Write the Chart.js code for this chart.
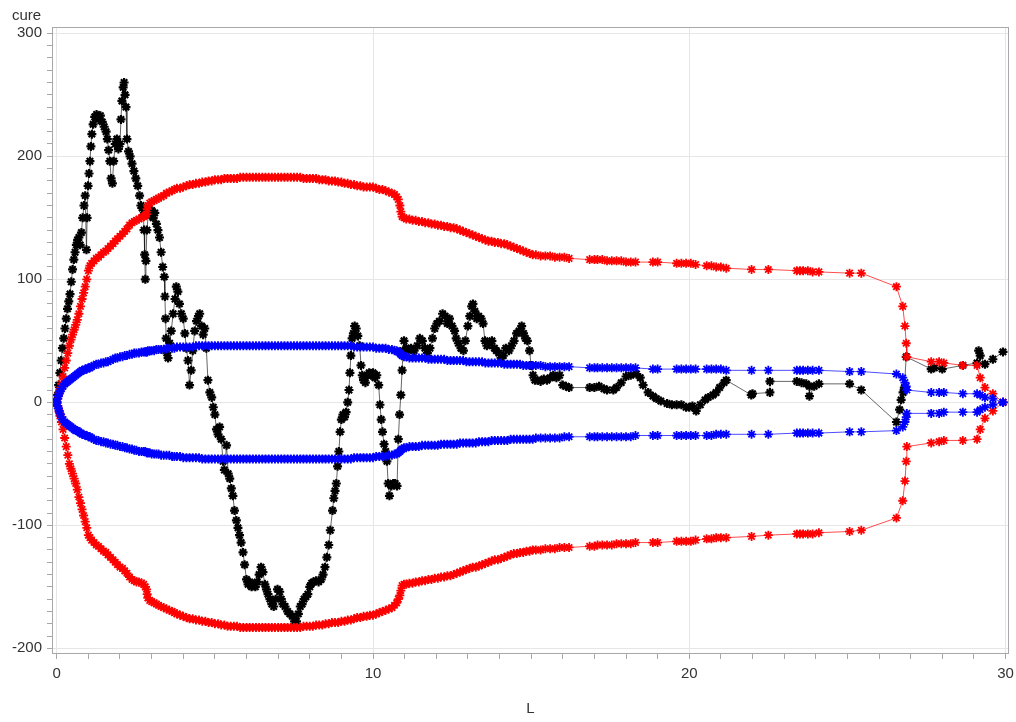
<!DOCTYPE html>
<html>
<head>
<meta charset="utf-8">
<script src="https://cdn.jsdelivr.net/npm/chart.js@4/dist/chart.umd.min.js"></script>
<style>
  body { margin: 0; background: #fff; }
  #wrap { width: 1016px; height: 722px; }
  canvas { display: block; }
</style>
</head>
<body>
<div id="wrap"><canvas id="cureChart" width="1016" height="722"></canvas></div>
<script>
// tick labels
const xMajor = [0, 10, 20, 30];
const yMajor = [-200, -100, 0, 100, 200, 300];

// observed cure path
const blackL = [
  0, 0.03, 0.06, 0.1, 0.14, 0.18, 0.22, 0.26, 0.3, 0.34, 0.38, 0.42, 0.46, 0.5, 0.54, 0.58, 0.62, 0.66, 0.7, 0.74,
  0.78, 0.82, 0.86, 0.9, 0.94, 0.96, 0.99, 1.02, 1.05, 1.08, 1.11, 1.15, 1.2, 1.26, 1.32, 1.38, 1.44, 1.5, 1.56, 1.6,
  1.64, 1.68, 1.72, 1.76, 1.8, 1.85, 1.9, 1.95, 2.0, 2.03, 2.06, 2.1, 2.13, 2.16, 2.19, 2.22, 2.27, 2.32, 2.38, 2.44,
  2.5, 2.56, 2.62, 2.66, 2.7, 2.74, 2.76, 2.78, 2.8, 2.82, 2.85, 2.9, 2.95, 3.0, 3.05, 3.1, 3.15, 3.2, 3.25, 3.3,
  3.35, 3.4, 3.42, 3.44, 3.46, 3.48, 3.52, 3.57, 3.62, 3.68, 3.74, 3.78, 3.83, 3.88, 3.94, 4.0, 4.05, 4.1, 4.15, 4.2,
  4.25, 4.3, 4.36, 4.42, 4.48, 4.52, 4.58, 4.63, 4.68, 4.73, 4.78, 4.84, 4.9, 4.95, 5.0, 5.05, 5.1, 5.15, 5.2, 5.26,
  5.3, 5.37, 5.42, 5.47, 5.52, 5.57, 5.62, 5.68, 5.73, 5.78, 5.83, 5.89, 5.94, 6.0, 6.05, 6.1, 6.16, 6.22, 6.28, 6.34,
  6.4, 6.46, 6.52, 6.58, 6.63, 6.68, 6.74, 6.8, 6.86, 6.92, 6.98, 7.05, 7.1, 7.15, 7.22, 7.3, 7.37, 7.45, 7.52, 7.58,
  7.64, 7.7, 7.76, 7.82, 7.88, 7.94, 8.0, 8.06, 8.12, 8.2, 8.28, 8.36, 8.42, 8.48, 8.54, 8.6, 8.65, 8.72, 8.76, 8.8,
  8.84, 8.88, 8.92, 8.96, 9.0, 9.05, 9.1, 9.15, 9.2, 9.24, 9.27, 9.3, 9.34, 9.38, 9.42, 9.47, 9.52, 9.58, 9.62, 9.66,
  9.7, 9.76, 9.82, 9.88, 9.94, 10.0, 10.06, 10.12, 10.18, 10.22, 10.26, 10.3, 10.35, 10.4, 10.44, 10.48, 10.52, 10.58, 10.64, 10.7,
  10.76, 10.8, 10.84, 10.88, 10.92, 10.95, 10.98, 11.05, 11.12, 11.2, 11.3, 11.4, 11.48, 11.56, 11.64, 11.72, 11.8, 11.88, 11.95, 12.02,
  12.1, 12.2, 12.28, 12.35, 12.42, 12.5, 12.58, 12.63, 12.7, 12.78, 12.86, 12.92, 13.0, 13.06, 13.12, 13.16, 13.22, 13.28, 13.34, 13.42,
  13.48, 13.54, 13.6, 13.68, 13.76, 13.84, 13.9, 13.98, 14.05, 14.12, 14.2, 14.3, 14.38, 14.46, 14.54, 14.62, 14.7, 14.76, 14.82, 14.88,
  14.95, 15.0, 15.06, 15.12, 15.2, 15.3, 15.4, 15.5, 15.6, 15.7, 15.8, 15.9, 16.0, 16.1, 16.2, 16.85, 17.0, 17.15, 17.3, 17.4,
  17.6, 17.7, 17.85, 18.0, 18.15, 18.33, 18.45, 18.54, 18.7, 18.85, 18.96, 19.1, 19.3, 19.45, 19.6, 19.75, 19.9, 20.0, 20.1, 20.22,
  20.35, 20.5, 20.6, 20.75, 20.85, 20.96, 21.1, 21.17, 21.96, 22.0, 22.55, 22.55, 23.4, 23.55, 23.7, 23.8, 23.8, 23.95, 24.1, 25.07,
  25.44, 26.55, 26.65, 26.7, 26.76, 26.8, 26.86, 27.65, 27.75, 28.0, 28.65, 29.1, 29.15, 29.2, 29.35, 29.6, 29.92
];
const blackCure = [
  0, 6, 14, 24, 34, 44, 52, 60, 68, 76, 82, 88, 98, 108, 116, 122, 128, 132, 134, 128,
  138, 150, 160, 168, 124, 150, 176, 186, 196, 208, 218, 226, 232, 234, 230, 233, 228, 224, 220, 214,
  205, 196, 182, 178, 196, 210, 214, 206, 210, 230, 245, 256, 260, 250, 240, 214, 204, 200, 194, 188,
  182, 176, 168, 160, 158, 152, 140, 120, 100, 115, 140, 154, 152, 156, 150, 154, 145, 140, 134, 122,
  110, 102, 86, 68, 52, 40, 36, 48, 58, 72, 84, 94, 90, 80, 72, 68, 56, 44, 34, 14,
  26, 42, 58, 66, 70, 72, 62, 55, 60, 44, 18, 8, 4, -4, -10, -22, -26, -20, -30, -48,
  -55, -35, -58, -62, -70, -76, -88, -96, -102, -108, -114, -122, -132, -144, -148, -146, -150, -148, -150, -146,
  -140, -134, -138, -148, -152, -156, -160, -164, -166, -160, -152, -154, -160, -164, -166, -170, -172, -174, -178, -178,
  -172, -166, -164, -160, -158, -156, -150, -147, -146, -145, -146, -144, -140, -134, -126, -116, -104, -88, -78, -72,
  -66, -52, -40, -24, -14, -10, -12, -8, 0, 10, 24, 38, 52, 56, 62, 60, 54, 46, 30, 22,
  18, 16, 22, 24, 22, 24, 20, 22, 14, -2, -14, -24, -34, -40, -48, -66, -76, -68, -66, -66,
  -68, -30, -10, 6, 26, 42, 50, 44, 42, 44, 42, 46, 52, 50, 44, 40, 44, 52, 60, 64,
  66, 72, 70, 64, 68, 62, 58, 52, 48, 44, 42, 50, 62, 70, 78, 80, 74, 68, 70, 68,
  64, 50, 46, 48, 50, 44, 42, 40, 36, 38, 44, 42, 46, 50, 56, 58, 62, 56, 52, 50,
  42, 30, 22, 18, 18, 17, 19, 18, 20, 22, 20, 22, 14, 13, 12, 12, 12, 13, 11, 10,
  10, 12, 16, 21, 22, 23, 20, 14, 8, 5, 3, 1, -1, -2, -2, -2, -4, -4, -3, -7,
  -2, 2, 4, 6, 8, 12, 16, 18, 6, 7, 8, 17, 17, 16, 15, 13, 5, 13, 15, 15,
  10, -16, -6, 2, 8, 12, 37, 27, 28, 27, 30, 32, 42, 38, 31, 35, 41
];

// band positions (shared by the red and blue bands)
const boundL = [
  0, 0.03, 0.05, 0.08, 0.1, 0.15, 0.2, 0.25, 0.3, 0.35, 0.4, 0.45, 0.5, 0.55, 0.6, 0.65, 0.7, 0.75, 0.8, 0.85,
  0.9, 0.95, 1.0, 1.05, 1.1, 1.18, 1.25, 1.32, 1.4, 1.48, 1.55, 1.62, 1.7, 1.78, 1.85, 1.92, 2.0, 2.08, 2.15, 2.22,
  2.3, 2.38, 2.45, 2.52, 2.6, 2.68, 2.75, 2.8, 2.84, 2.86, 2.88, 2.94, 3.0, 3.08, 3.15, 3.22, 3.3, 3.38, 3.47, 3.56,
  3.65, 3.72, 3.8, 3.9, 4.0, 4.1, 4.2, 4.3, 4.4, 4.5, 4.6, 4.7, 4.8, 4.9, 5.0, 5.1, 5.2, 5.3, 5.4, 5.5,
  5.6, 5.7, 5.8, 5.9, 6.0, 6.1, 6.2, 6.3, 6.4, 6.5, 6.6, 6.7, 6.8, 6.9, 7.0, 7.1, 7.2, 7.3, 7.4, 7.5,
  7.6, 7.7, 7.8, 7.9, 8.0, 8.1, 8.2, 8.3, 8.4, 8.5, 8.6, 8.7, 8.8, 8.9, 9.0, 9.1, 9.2, 9.3, 9.4, 9.5,
  9.6, 9.7, 9.8, 9.9, 10.0, 10.1, 10.2, 10.3, 10.4, 10.5, 10.6, 10.68, 10.75, 10.8, 10.85, 10.88, 10.92, 10.98, 11.05, 11.15,
  11.25, 11.35, 11.45, 11.55, 11.65, 11.75, 11.85, 11.95, 12.05, 12.15, 12.25, 12.35, 12.45, 12.55, 12.65, 12.75, 12.85, 12.95, 13.05, 13.15,
  13.25, 13.35, 13.45, 13.55, 13.65, 13.75, 13.85, 13.95, 14.05, 14.15, 14.25, 14.35, 14.45, 14.55, 14.65, 14.75, 14.85, 14.95, 15.05, 15.15,
  15.3, 15.45, 15.6, 15.75, 15.9, 16.05, 16.2, 16.85, 17.0, 17.1, 17.25, 17.4, 17.55, 17.7, 17.85, 18.0, 18.15, 18.3, 18.85, 19.0,
  19.6, 19.75, 19.9, 20.05, 20.2, 20.55, 20.7, 20.85, 21.0, 21.17, 21.97, 22.5, 23.4, 23.5, 23.6, 23.75, 23.9, 24.1, 25.07, 25.44,
  26.55, 26.75, 26.82, 26.86, 26.88, 27.65, 27.9, 28.05, 28.65, 29.1, 29.2, 29.35, 29.6, 29.92
];
const redUpper = [
  0, 3, 5, 8, 10, 15, 21, 28, 34, 40, 46, 51, 55, 59, 63, 67, 72, 78, 84, 89,
  94, 100, 107, 111, 113, 115, 117, 118, 120, 122, 123, 125, 127, 129, 131, 133, 135, 137, 139, 141,
  144, 146, 147, 148, 149, 150, 151, 152, 153, 157, 160, 162, 163, 164, 165, 166, 167, 168, 170, 171,
  172, 173, 174, 174, 175, 176, 177, 177, 178, 178, 179, 179, 180, 180, 181, 181, 181, 182, 182, 182,
  182, 182, 183, 183, 183, 183, 183, 183, 183, 183, 183, 183, 183, 183, 183, 183, 183, 183, 183, 183,
  183, 183, 182, 182, 182, 182, 182, 181, 181, 181, 180, 180, 180, 179, 179, 178, 178, 177, 177, 176,
  176, 175, 175, 175, 175, 174, 173, 173, 172, 171, 170, 169, 167, 165, 160, 155, 151, 150, 149, 149,
  148, 148, 147, 147, 146, 146, 145, 145, 144, 144, 143, 143, 142, 142, 141, 140, 139, 138, 137, 136,
  135, 134, 133, 132, 131, 131, 130, 130, 129, 129, 128, 127, 126, 125, 124, 123, 122, 121, 120, 120,
  119, 119, 119, 118, 118, 118, 117, 116, 116, 116, 116, 115, 115, 115, 115, 114, 114, 114, 114, 114,
  113, 113, 113, 113, 112, 111, 111, 110, 110, 109, 108, 108, 107, 107, 107, 107, 106, 106, 105, 105,
  94, 78, 62, 48, 37, 33, 33, 32, 30, 30, 20, 12, 7, 0
];
const redLower = [
  0, -3, -5, -8, -11, -16, -22, -29, -36, -43, -50, -54, -58, -62, -66, -71, -77, -82, -87, -92,
  -97, -102, -108, -110, -112, -114, -116, -117, -119, -121, -122, -124, -126, -128, -130, -132, -134, -135, -137, -139,
  -142, -144, -145, -146, -146, -147, -148, -150, -152, -156, -159, -161, -162, -163, -164, -165, -166, -167, -168, -169,
  -170, -171, -172, -173, -174, -175, -176, -176, -177, -177, -178, -178, -179, -179, -180, -180, -181, -181, -182, -182,
  -182, -182, -183, -183, -183, -183, -183, -183, -183, -183, -183, -183, -183, -183, -183, -183, -183, -183, -183, -183,
  -183, -183, -182, -182, -182, -182, -181, -181, -181, -180, -180, -179, -179, -179, -178, -178, -177, -177, -176, -175,
  -175, -174, -174, -173, -173, -172, -171, -170, -169, -168, -167, -165, -163, -160, -157, -153, -149, -148, -148, -147,
  -147, -146, -146, -145, -145, -144, -144, -143, -143, -142, -142, -141, -141, -140, -139, -138, -137, -136, -135, -134,
  -134, -133, -132, -131, -130, -129, -128, -128, -127, -126, -125, -124, -123, -123, -122, -122, -121, -121, -120, -120,
  -120, -119, -119, -119, -118, -118, -118, -117, -117, -116, -116, -116, -116, -115, -115, -115, -115, -114, -114, -114,
  -113, -113, -113, -113, -112, -111, -111, -110, -110, -110, -109, -108, -107, -107, -107, -107, -107, -106, -105, -104,
  -94, -80, -64, -48, -36, -33, -32, -31, -31, -30, -22, -13, -7, 0
];
const blueUpper = [
  0, 3, 5, 7, 9, 11, 13, 15, 16, 17, 18, 19, 20, 21, 22, 23, 24, 25, 26, 26,
  27, 27, 28, 28, 29, 30, 31, 31, 32, 32, 33, 33, 34, 35, 36, 36, 37, 37, 38, 38,
  39, 39, 40, 40, 40, 41, 41, 41, 41, 41, 42, 42, 42, 42, 43, 43, 43, 43, 44, 44,
  44, 44, 45, 45, 45, 45, 45, 45, 46, 46, 46, 46, 46, 46, 46, 46, 46, 46, 46, 46,
  46, 46, 46, 46, 46, 46, 46, 46, 46, 46, 46, 46, 46, 46, 46, 46, 46, 46, 46, 46,
  46, 46, 46, 46, 46, 46, 46, 46, 46, 46, 46, 46, 46, 46, 46, 46, 46, 46, 45, 45,
  45, 45, 45, 45, 45, 44, 44, 44, 44, 43, 43, 42, 42, 41, 40, 39, 38, 37, 37, 36,
  36, 36, 36, 36, 36, 35, 35, 35, 35, 35, 35, 34, 34, 34, 34, 34, 34, 33, 33, 33,
  33, 33, 33, 32, 32, 32, 32, 32, 32, 31, 31, 31, 31, 31, 31, 30, 30, 30, 30, 30,
  30, 29, 29, 29, 29, 29, 29, 28, 28, 28, 28, 28, 28, 28, 28, 28, 28, 28, 27, 27,
  27, 27, 27, 27, 27, 27, 27, 27, 27, 26, 26, 26, 26, 26, 26, 26, 26, 26, 25, 25,
  23, 20, 16, 13, 10, 8, 8, 8, 7, 7, 6, 4, 3, 0
];
const blueLower = [
  0, -3, -5, -7, -9, -12, -14, -16, -17, -18, -19, -20, -21, -22, -23, -23, -24, -25, -26, -26,
  -27, -27, -28, -28, -29, -30, -31, -31, -32, -32, -33, -33, -34, -34, -35, -35, -36, -36, -37, -37,
  -38, -38, -39, -39, -40, -40, -40, -40, -41, -41, -41, -41, -42, -42, -42, -42, -43, -43, -43, -43,
  -44, -44, -44, -44, -45, -45, -45, -45, -45, -45, -46, -46, -46, -46, -46, -46, -46, -46, -46, -46,
  -46, -46, -46, -46, -46, -46, -46, -46, -46, -46, -46, -46, -46, -46, -46, -46, -46, -46, -46, -46,
  -46, -46, -46, -46, -46, -46, -46, -46, -46, -46, -46, -46, -46, -46, -46, -46, -46, -46, -45, -45,
  -45, -45, -45, -45, -45, -44, -44, -44, -44, -43, -43, -42, -42, -41, -40, -39, -38, -37, -37, -36,
  -36, -36, -36, -35, -35, -35, -35, -35, -35, -34, -34, -34, -34, -34, -34, -33, -33, -33, -33, -33,
  -33, -32, -32, -32, -32, -31, -31, -31, -31, -31, -31, -30, -30, -30, -30, -30, -30, -30, -30, -29,
  -29, -29, -29, -29, -29, -28, -28, -28, -28, -28, -28, -28, -28, -28, -28, -28, -28, -27, -27, -27,
  -27, -27, -27, -27, -27, -27, -27, -26, -26, -26, -26, -26, -25, -25, -25, -25, -25, -25, -24, -24,
  -23, -20, -16, -12, -9, -9, -9, -8, -8, -8, -6, -4, -2, 0
];

function pairs(xs, ys) {
    return xs.map((x, i) => ({ x: x, y: ys[i] }));
}

function series(data, lineColor, markColor, weight) {
    return {
        data: data,
        showLine: true,
        borderColor: lineColor,
        borderWidth: 1,
        pointStyle: 'star',
        pointRadius: 4.5,
        pointBorderWidth: weight,
        pointBorderColor: markColor,
        pointBackgroundColor: markColor,
        pointHoverRadius: 4.5
    };
}

const FONT = '"Liberation Sans", Arial, sans-serif';

// frame around the plot area plus the two axis captions
const framePlugin = {
    id: 'frame',
    afterDraw(chart) {
        const c = chart.ctx;
        const a = chart.chartArea;
        c.save();
        c.strokeStyle = '#a8a8a8';
        c.lineWidth = 1;
        c.strokeRect(Math.round(a.left) + 0.5, Math.round(a.top) + 0.5,
                     Math.round(a.right - a.left) - 1, Math.round(a.bottom - a.top) - 1);
        c.fillStyle = '#333';
        c.font = '15px ' + FONT;
        c.textBaseline = 'middle';
        c.textAlign = 'left';
        c.fillText('cure', 12, 16);
        c.textAlign = 'center';
        c.fillText('L', (a.left + a.right) / 2, 709);
        c.restore();
    }
};

const ctx = document.getElementById('cureChart').getContext('2d');

new Chart(ctx, {
    type: 'scatter',
    data: {
        datasets: [
            series(pairs(boundL, blueUpper), 'rgba(0,0,255,0.7)', '#0000ff', 1.8),
            series(pairs(boundL, blueLower), 'rgba(0,0,255,0.7)', '#0000ff', 1.8),
            series(pairs(boundL, redUpper), 'rgba(255,0,0,0.7)', '#ff0000', 1.8),
            series(pairs(boundL, redLower), 'rgba(255,0,0,0.7)', '#ff0000', 1.8),
            series(pairs(blackL, blackCure), 'rgba(0,0,0,0.6)', '#000000', 2.2)
        ]
    },
    options: {
        responsive: false,
        animation: false,
        layout: { padding: { top: 27, right: 7, bottom: 0, left: 0 } },
        plugins: {
            legend: { display: false },
            tooltip: { enabled: false }
        },
        scales: {
            x: {
                type: 'linear',
                min: -0.15,
                max: 30.11,
                afterBuildTicks(scale) {
                    const t = [];
                    for (let v = 0; v <= 30; v++) t.push({ value: v });
                    scale.ticks = t;
                },
                afterFit(scale) {
                    scale.height = 68;
                    scale.paddingLeft = 0;
                    scale.paddingRight = 0;
                },
                border: { display: false },
                grid: {
                    color: (c) => c.tick && xMajor.includes(c.tick.value) ? '#e6e6e6' : 'rgba(0,0,0,0)',
                    tickColor: '#a8a8a8',
                    tickLength: 5,
                    drawTicks: true
                },
                ticks: {
                    autoSkip: false,
                    maxRotation: 0,
                    padding: 6,
                    color: '#333',
                    font: { family: FONT, size: 15 },
                    callback: (v) => xMajor.includes(v) ? String(v) : ''
                }
            },
            y: {
                type: 'linear',
                min: -204.6,
                max: 305.1,
                afterBuildTicks(scale) {
                    const t = [];
                    for (let v = -200; v <= 300; v += 10) t.push({ value: v });
                    scale.ticks = t;
                },
                afterFit(scale) {
                    scale.width = 52;
                    scale.paddingTop = 0;
                    scale.paddingBottom = 0;
                },
                border: { display: false },
                grid: {
                    color: (c) => c.tick && yMajor.includes(c.tick.value) ? '#e6e6e6' : 'rgba(0,0,0,0)',
                    tickColor: '#a8a8a8',
                    tickLength: 5,
                    drawTicks: true
                },
                ticks: {
                    autoSkip: false,
                    padding: 5,
                    color: '#333',
                    font: { family: FONT, size: 15 },
                    callback: (v) => yMajor.includes(v) ? String(v) : ''
                }
            }
        }
    },
    plugins: [framePlugin]
});
</script>
</body>
</html>
